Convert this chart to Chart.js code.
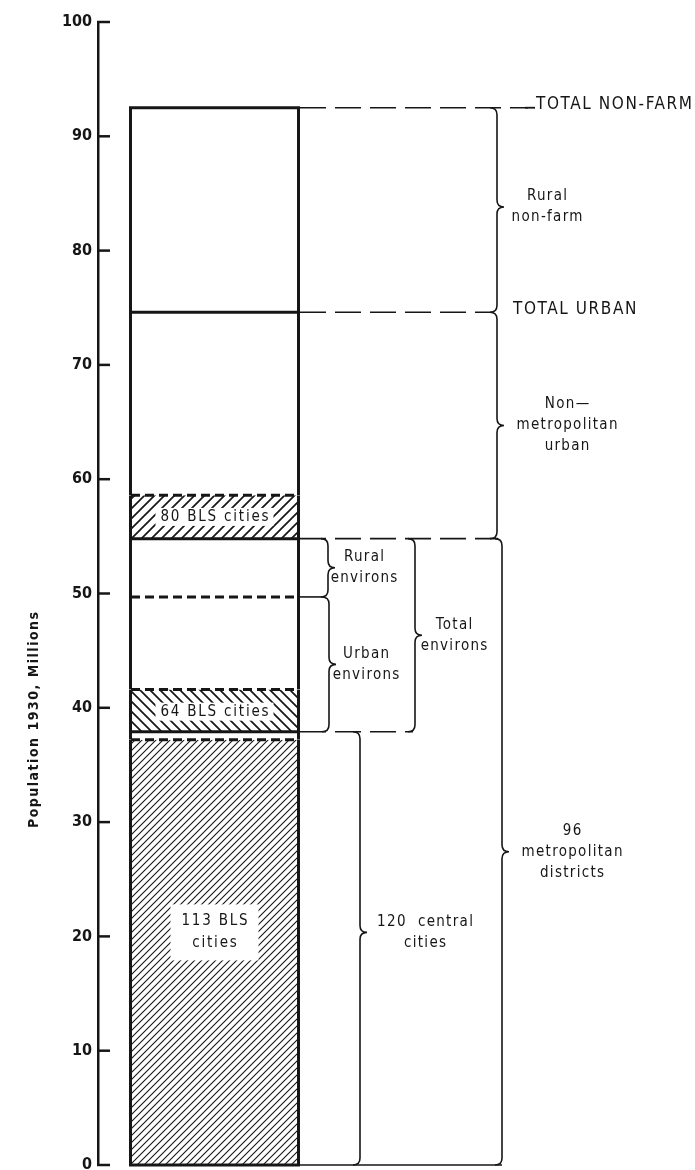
<!DOCTYPE html>
<html>
<head>
<meta charset="utf-8">
<script src="https://cdn.jsdelivr.net/npm/chart.js@4"></script>
<style>
  html, body { margin: 0; padding: 0; background: #fff; }
  #wrap { width: 695px; height: 1170px; position: relative; }
</style>
</head>
<body>
<div id="wrap"><canvas id="chart"></canvas></div>
<script>
// Population 1930, millions (bottom to top of the column)
const segmentNames = ["113 BLS cities", "Other central cities", "64 BLS cities", "Urban environs",
  "Rural environs", "80 BLS cities", "Other non-metropolitan urban", "Rural non-farm"];
const segmentFrom = [0, 37.2, 37.9, 41.6, 49.7, 54.8, 58.6, 74.6];
const segmentTo = [37.2, 37.9, 41.6, 49.7, 54.8, 58.6, 74.6, 92.5];

// boundaries drawn across the column
const solidLevels = [0, 37.9, 54.8, 74.6, 92.5];
const dashedLevels = [37.2, 41.6, 49.7, 58.6];

// braces on the right
const braceText = [["Rural", "non-farm"], ["Non\u2014", "metropolitan", "urban"],
  ["96", "metropolitan", "districts"], ["Rural", "environs"], ["Urban", "environs"],
  ["Total", "environs"], ["120  central", "cities"]];
const braceFrom = [74.6, 54.8, 0, 49.7, 37.9, 37.9, 0];
const braceTo = [92.5, 74.6, 54.8, 54.8, 49.7, 54.8, 37.9];

const totalNames = ["TOTAL NON-FARM", "TOTAL URBAN"];
const totalLevels = [92.5, 74.6];

const yMin = 0;
const yMax = 100;
const yStep = 10;

// ---- styling / layout (not data) ----
const ink = "#161616";
const face = "'DejaVu Sans Condensed', 'DejaVu Sans', sans-serif";

const canvas = document.getElementById("chart");
const ctx0 = canvas.getContext("2d");

function makeHatch(dir, s, width) {
  const c = document.createElement("canvas");
  c.width = s;
  c.height = s;
  const g = c.getContext("2d");
  g.strokeStyle = ink;
  g.lineWidth = width;
  g.beginPath();
  if (dir > 0) {
    g.moveTo(0, s); g.lineTo(s, 0);
    g.moveTo(-s / 2, s / 2); g.lineTo(s / 2, -s / 2);
    g.moveTo(s / 2, s * 1.5); g.lineTo(s * 1.5, s / 2);
  } else {
    g.moveTo(0, 0); g.lineTo(s, s);
    g.moveTo(-s / 2, s / 2); g.lineTo(s / 2, s * 1.5);
    g.moveTo(s / 2, -s / 2); g.lineTo(s * 1.5, s / 2);
  }
  g.stroke();
  return ctx0.createPattern(c, "repeat");
}

const fills = {
  "113 BLS cities": makeHatch(1, 7, 1.1),
  "64 BLS cities": makeHatch(-1, 10, 1.7),
  "80 BLS cities": makeHatch(1, 10, 1.7),
};

// label boxes inside hatched parts: [lines, pixel shift from segment middle]
const boxLabels = {
  "113 BLS cities": [["113 BLS", "cities"], -20],
  "64 BLS cities": [["64 BLS cities"], 1],
  "80 BLS cities": [["80 BLS cities"], 0],
};

// connector ends (px) for solidLevels / dashedLevels
const solidEnds = [502, 413, 498, 490, 528];
const dashedEnds = [null, null, 322, null];

const braceX = [497, 497, 502, 328, 329, 415, 360];
const braceTextX = [547, 567, 572, 364, 366, 454, 425];
const braceTipShift = [-3, 0, 0, 0, 0, 0, -16];
const totalTextX = [536, 513];

function say(ctx, text, x, y, size, weight, spacing, align) {
  ctx.font = `${weight} ${size}px ${face}`;
  ctx.letterSpacing = spacing + "px";
  ctx.textAlign = align || "center";
  ctx.textBaseline = "middle";
  ctx.fillStyle = ink;
  const dx = (align || "center") === "center" ? spacing / 2 : 0;
  ctx.fillText(text, x + dx, y);
}

function brace(ctx, x, yTop, yBot, yTip, r) {
  ctx.beginPath();
  ctx.moveTo(x - r, yTop);
  ctx.quadraticCurveTo(x, yTop, x, yTop + r);
  ctx.lineTo(x, yTip - r);
  ctx.quadraticCurveTo(x, yTip, x + r, yTip);
  ctx.quadraticCurveTo(x, yTip, x, yTip + r);
  ctx.lineTo(x, yBot - r);
  ctx.quadraticCurveTo(x, yBot, x - r, yBot);
  ctx.stroke();
}

const annotate = {
  id: "annotate",
  afterDatasetsDraw(chart) {
    const ctx = chart.ctx;
    const y = chart.scales.y;
    const bar = chart.getDatasetMeta(0).data[0];
    const left = bar.x - bar.width / 2;
    const right = bar.x + bar.width / 2;
    const area = chart.chartArea;
    ctx.save();
    ctx.strokeStyle = ink;
    ctx.lineCap = "butt";

    // white label boxes in hatched parts
    segmentNames.forEach((name, i) => {
      const lab = boxLabels[name];
      if (!lab) return;
      const mid = (y.getPixelForValue(segmentFrom[i]) + y.getPixelForValue(segmentTo[i])) / 2 + lab[1];
      const lh = 22;
      ctx.font = `normal 15px ${face}`;
      ctx.letterSpacing = "1.8px";
      const w = Math.max(...lab[0].map((t) => ctx.measureText(t).width));
      const h = lab[0].length * lh;
      ctx.fillStyle = "#fff";
      if (lab[0].length > 1) {
        ctx.fillRect(bar.x - w / 2 - 10, mid - h / 2 - 6, w + 20, h + 12);
      } else {
        ctx.fillRect(bar.x - w / 2 - 4, mid - 9, w + 8, 18);
      }
      lab[0].forEach((t, k) => {
        say(ctx, t, bar.x, mid - h / 2 + lh / 2 + k * lh, 15, "normal", 1.8);
      });
    });

    // boundaries across the column
    ctx.lineWidth = 3;
    solidLevels.forEach((v) => {
      const py = y.getPixelForValue(v);
      ctx.setLineDash([]);
      ctx.beginPath();
      ctx.moveTo(left, py);
      ctx.lineTo(right, py);
      ctx.stroke();
    });
    dashedLevels.forEach((v) => {
      const py = y.getPixelForValue(v);
      ctx.setLineDash([9, 5]);
      ctx.beginPath();
      ctx.moveTo(left + 2, py);
      ctx.lineTo(right - 2, py);
      ctx.stroke();
    });

    // connectors to the braces
    ctx.lineWidth = 1.6;
    solidLevels.forEach((v, i) => {
      const py = y.getPixelForValue(v);
      ctx.setLineDash(v === yMin ? [] : [26, 9]);
      ctx.beginPath();
      ctx.moveTo(right, py);
      ctx.lineTo(solidEnds[i], py);
      ctx.stroke();
    });
    dashedLevels.forEach((v, i) => {
      if (!dashedEnds[i]) return;
      const py = y.getPixelForValue(v);
      ctx.setLineDash([]);
      ctx.beginPath();
      ctx.moveTo(right, py);
      ctx.lineTo(dashedEnds[i], py);
      ctx.stroke();
    });
    ctx.setLineDash([]);

    // braces and their labels
    braceText.forEach((lines, i) => {
      const top = y.getPixelForValue(braceTo[i]);
      const bot = y.getPixelForValue(braceFrom[i]);
      const tip = (top + bot) / 2 + braceTipShift[i];
      ctx.lineWidth = 1.6;
      brace(ctx, braceX[i], top, bot, tip, 7);
      const lh = 21;
      lines.forEach((t, k) => {
        say(ctx, t, braceTextX[i], tip - ((lines.length - 1) * lh) / 2 + k * lh, 15, "normal", 1.3);
      });
    });

    // totals
    totalNames.forEach((t, i) => {
      const py = y.getPixelForValue(totalLevels[i]);
      say(ctx, t, totalTextX[i], py - 3, 17, "normal", 1.6, "left");
    });
    ctx.lineWidth = 1.8;
    ctx.beginPath();
    ctx.moveTo(525, y.getPixelForValue(totalLevels[0]));
    ctx.lineTo(535, y.getPixelForValue(totalLevels[0]));
    ctx.stroke();

    // inward ticks on the value axis
    ctx.lineWidth = 2.5;
    y.ticks.forEach((t) => {
      const py = y.getPixelForValue(t.value);
      ctx.beginPath();
      ctx.moveTo(area.left - 1, py);
      ctx.lineTo(area.left + 12, py);
      ctx.stroke();
    });

    // axis title
    ctx.translate(34, 720);
    ctx.rotate(-Math.PI / 2);
    say(ctx, "Population 1930, Millions", 0, 0, 14, "bold", 1.5);
    ctx.restore();
  },
};

new Chart(canvas, {
  type: "bar",
  data: {
    labels: ["1930"],
    datasets: segmentNames.map((name, i) => ({
      label: name,
      data: [[segmentFrom[i], segmentTo[i]]],
      backgroundColor: fills[name] || "#fff",
      borderColor: ink,
      borderWidth: { left: 3, right: 3, top: 0, bottom: 0 },
      borderSkipped: false,
      grouped: false,
      barPercentage: 0.734,
      categoryPercentage: 1,
    })),
  },
  options: {
    responsive: true,
    maintainAspectRatio: false,
    animation: false,
    layout: { padding: { top: 22, bottom: 5, left: 0, right: 364 } },
    scales: {
      x: { display: false },
      y: {
        min: yMin,
        max: yMax,
        ticks: {
          stepSize: yStep,
          color: ink,
          padding: 6,
          font: { family: face, size: 16, weight: "bold" },
        },
        grid: { drawOnChartArea: false, drawTicks: false },
        border: { display: true, color: ink, width: 2.5 },
        afterFit: (scale) => {
          scale.width = 98;
          // let the end labels hang over the plot edges, as in the print
          scale.paddingTop = 0;
          scale.paddingBottom = 0;
        },
      },
    },
    plugins: {
      legend: { display: false },
      tooltip: { enabled: false },
    },
  },
  plugins: [annotate],
});
</script>
</body>
</html>
